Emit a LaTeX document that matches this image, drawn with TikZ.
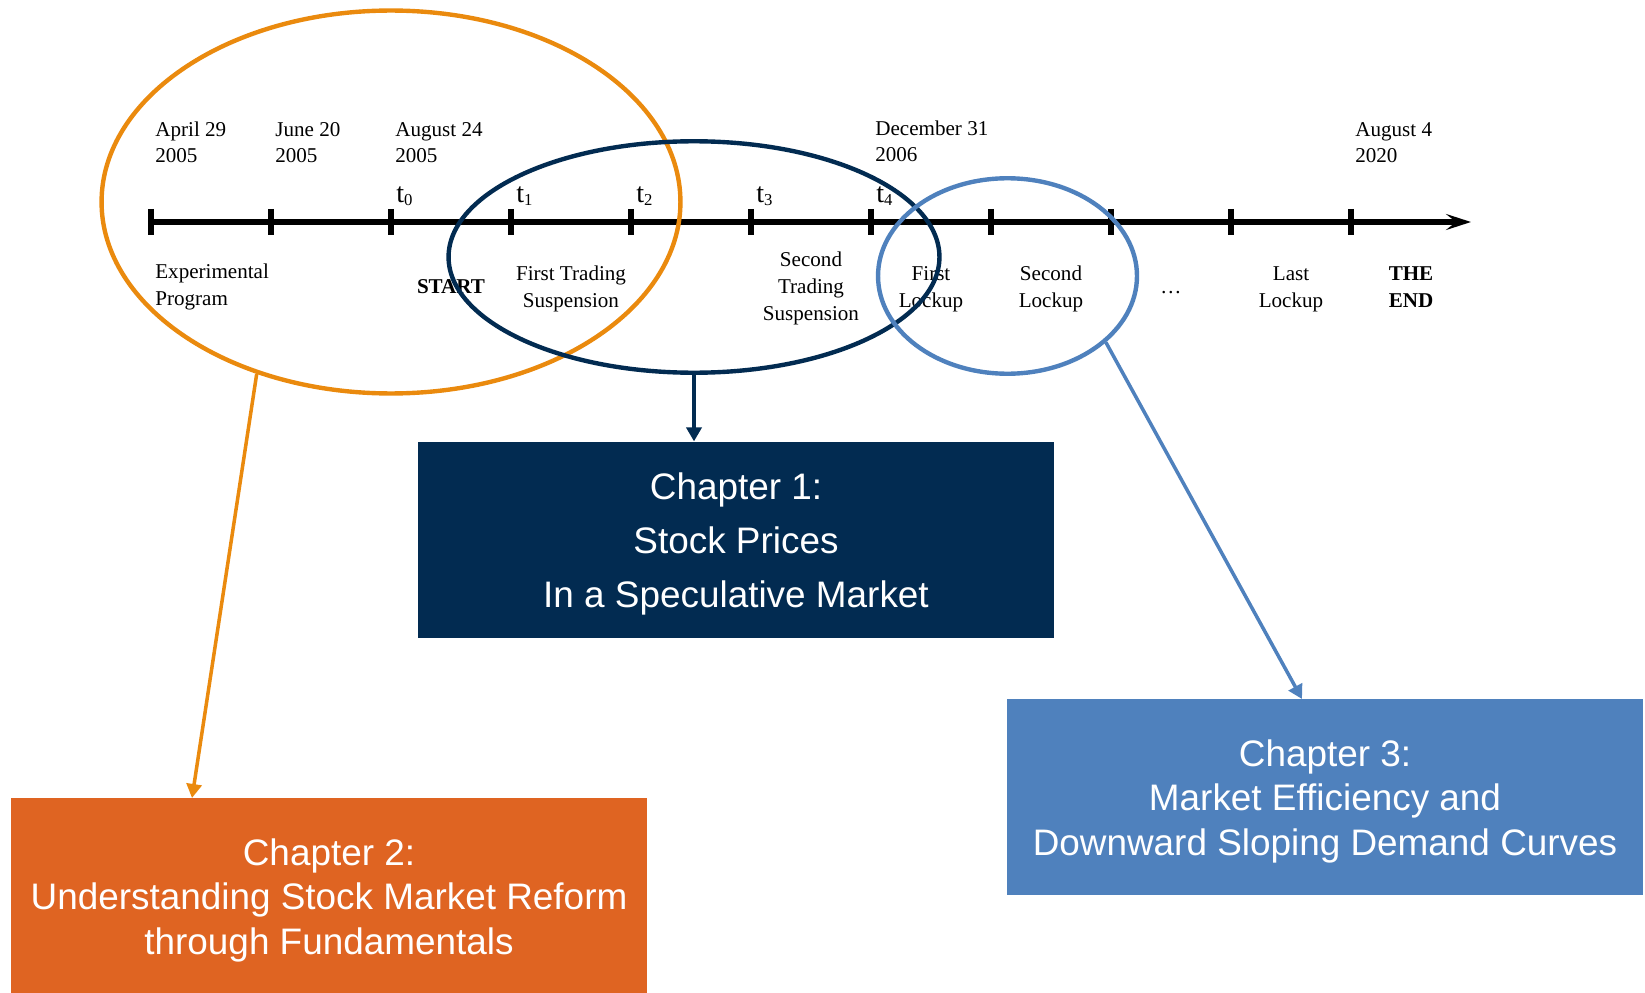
\documentclass[tikz,border=0pt]{standalone}
\usepackage{fontspec}
\setmainfont{Liberation Serif}
\newfontfamily\chapfont{Liberation Sans}
\usetikzlibrary{arrows.meta,shapes.geometric}

\definecolor{navy}{RGB}{2,43,81}
\definecolor{amber}{RGB}{234,138,14}
\definecolor{rust}{RGB}{223,100,34}
\definecolor{steel}{RGB}{79,129,189}

% extra room above the first line of a chapter box
\newcommand{\chlift}{\rule{0pt}{20pt}}

\begin{document}
\begin{tikzpicture}[
        x=0.02cm, y=-0.02cm,
        date/.style={anchor=base west, align=left, inner sep=0pt,
            font=\fontsize{12}{15.3}\selectfont},
        event/.style={anchor=base, align=center, inner sep=0pt,
            font=\fontsize{12}{15.3}\selectfont},
        tlabel/.style={anchor=base west, inner sep=0pt,
            font=\fontsize{16}{16}\selectfont},
        tickmark/.style={line width=3.2pt},
        ring/.style={ellipse, draw, line width=2.5pt, inner sep=0pt},
        chapter/.style={rectangle, minimum width=12.72cm, minimum height=3.93cm,
            inner sep=0pt, align=center, text=white,
            font=\chapfont\fontsize{21}{25.3}\selectfont},
        link/.style={line width=2pt, -{Triangle[length=0.28cm, width=0.3cm]}}
    ]
    \useasboundingbox (0,0) rectangle (1645,993);

    % Timeline
    \coordinate (tend) at (1471,222);
    \foreach \i in {0,...,10} {
        \coordinate (k\i) at ({151+120*\i},222);
        \draw[tickmark] (k\i) ++(0,-13) -- ++(0,26);
    }
    \draw[tickmark, -{Stealth[length=0.5cm, width=0.32cm, inset=0.2cm]}] (k0) -- (tend);

    % Dates (base = last line)
    \node[date] (d0)  at (155,163)  {April 29\\2005};
    \node[date] (d1)  at (275,163)  {June 20\\2005};
    \node[date] (d2)  at (395,163)  {August 24\\2005};
    \node[date] (d6)  at (875,162)  {December 31\\2006};
    \node[date] (d10) at (1355,163) {August 4\\2020};

    % t_0 ... t_4
    \foreach \i in {0,...,4}
        \node[tlabel] (t\i) at ({396+120*\i},203)
            {t\raisebox{-1.5pt}{\fontsize{9.5}{9.5}\selectfont\i}};

    % Events
    \node[event, anchor=base west, align=left] (e0) at (155,305) {Experimental\\Program};
    \node[event] (e1) at (451,293)  {\textbf{START}};
    \node[event] (e2) at (571,307)  {First Trading\\Suspension};
    \node[event] (e4) at (811,320)  {Second\\Trading\\Suspension};
    \node[event] (e5) at (931,307)  {First\\Lockup};
    \node[event] (e6) at (1051,307) {Second\\Lockup};
    \node[event] (e7) at (1171,293) {\dots};
    \node[event] (e8) at (1291,307) {Last\\Lockup};
    \node[event] (e9) at (1411,307) {\textbf{THE}\\\textbf{END}};

    % Chapters
    \node[chapter, fill=navy, font=\chapfont\fontsize{21}{30.6}\selectfont] (ch1) at (736,540)
        {\chlift Chapter 1:\\Stock Prices\\In a Speculative Market};
    \node[chapter, fill=rust] (ch2) at (329,896)
        {\chlift Chapter 2:\\Understanding Stock Market Reform\\through Fundamentals};
    \node[chapter, fill=steel] (ch3) at (1325,797)
        {\chlift Chapter 3:\\Market Efficiency and\\Downward Sloping Demand Curves};

    % Periods covered by each chapter
    \node[ring, draw=amber, minimum width=11.58cm, minimum height=7.66cm] (orel) at (391,202) {};
    \node[ring, draw=navy, minimum width=9.82cm, minimum height=4.63cm] (navel) at (694,257) {};
    \node[ring, draw=steel, minimum width=5.18cm, minimum height=3.91cm] (blel) at (1007.5,276) {};

    \coordinate (c2in) at (192,798);
    \coordinate (c3in) at (1302,699);
    \draw[link, amber] (orel.232) -- (c2in);
    \draw[link, navy] (navel.south) -- (navel.south |- ch1.north);
    \draw[link, steel] (blel.326) -- (c3in);

\end{tikzpicture}
\end{document}
